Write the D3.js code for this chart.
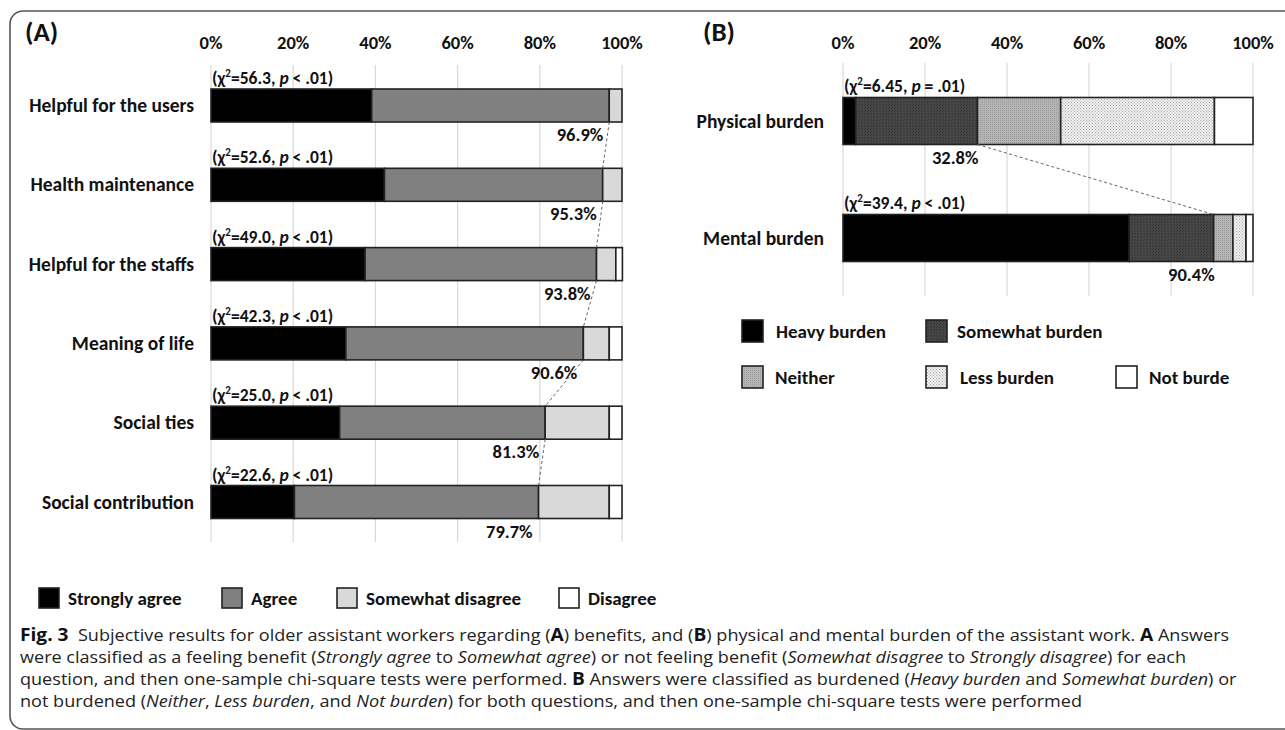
<!DOCTYPE html>
<html><head><meta charset="utf-8">
<script src="https://cdn.jsdelivr.net/npm/d3@7"></script>
<style>body{margin:0;background:#fff} svg{display:block}</style>
</head><body>
<svg id="chart" width="1285" height="730"></svg>
<script>
// ---------- DATA ----------
const tickValues = [0, 20, 40, 60, 80, 100];
const tickLabels = ["0%", "20%", "40%", "60%", "80%", "100%"];

// Panel A
const categoriesA = ["Helpful for the users", "Health maintenance", "Helpful for the staffs", "Meaning of life", "Social ties", "Social contribution"];
const seriesA = ["Strongly agree", "Agree", "Somewhat disagree", "Disagree"];
const stronglyAgree = [39.1, 42.2, 37.5, 32.8, 31.3, 20.3];
const agree = [57.8, 53.1, 56.3, 57.8, 50.0, 59.4];
const somewhatDisagree = [3.1, 4.7, 4.7, 6.3, 15.6, 17.2];
const disagree = [0, 0, 1.6, 3.1, 3.1, 3.1];
const benefitLabels = ["96.9%", "95.3%", "93.8%", "90.6%", "81.3%", "79.7%"];
const chiA = ["56.3", "52.6", "49.0", "42.3", "25.0", "22.6"];
const pOpA = ["<", "<", "<", "<", "<", "<"];

// Panel B
const categoriesB = ["Physical burden", "Mental burden"];
const seriesB = ["Heavy burden", "Somewhat burden", "Neither", "Less burden", "Not burde"];
const heavyBurden = [3.1, 69.8];
const somewhatBurden = [29.7, 20.6];
const neither = [20.3, 4.7];
const lessBurden = [37.5, 3.2];
const notBurden = [9.4, 1.7];
const burdenLabels = ["32.8%", "90.4%"];
const chiB = ["6.45", "39.4"];
const pOpB = ["=", "<"];

// ---------- SETUP ----------
const FONT = "Carlito, Lato, 'Open Sans', sans-serif";
const svg = d3.select("#chart");

const defs = svg.append("defs");
function pattern(id, size, bg, dots, dotColor) {
  const p = defs.append("pattern").attr("id", id).attr("patternUnits", "userSpaceOnUse")
    .attr("width", size).attr("height", size);
  p.append("rect").attr("width", size).attr("height", size).attr("fill", bg);
  dots.forEach(d => p.append("rect").attr("x", d[0]).attr("y", d[1]).attr("width", 1).attr("height", 1).attr("fill", dotColor));
}
pattern("patSomewhat", 3, "#474747", [[0, 0], [1, 2]], "#333");
pattern("patNeither", 2, "#b4b4b4", [[0, 0]], "#9c9c9c");
pattern("patLess", 3, "#f0f0f0", [[0, 0], [1.5, 1.5]], "#a8a8a8");

// frame
svg.append("rect").attr("x", 10).attr("y", 11).attr("width", 1320).attr("height", 718)
  .attr("rx", 13).attr("fill", "none").attr("stroke", "#555").attr("stroke-width", 1.6);

function chiText(sel, x, y, chi, op) {
  const t = sel.append("text").attr("x", x).attr("y", y).attr("font-family", FONT)
    .attr("font-weight", "bold").attr("font-size", 17.5).attr("fill", "#111");
  t.append("tspan").text("(χ");
  t.append("tspan").attr("font-size", 11).attr("dy", -7).text("2");
  t.append("tspan").attr("dy", 7).text("=" + chi + ", ");
  t.append("tspan").attr("font-style", "italic").text("p");
  t.append("tspan").text(" " + op + " .01)");
}

function panel(cfg) {
  const g = svg.append("g");
  const x = d3.scaleLinear().domain([0, 100]).range(cfg.xRange);
  const y = d3.scalePoint().domain(cfg.cats).range(cfg.yRange);
  const h = cfg.barH;

  // panel letter
  g.append("text").attr("x", cfg.letterX).attr("y", 41).attr("font-family", FONT)
    .attr("font-weight", "bold").attr("font-size", 27).attr("fill", "#111").text(cfg.letter);

  // grid + tick labels
  g.selectAll(".grid").data(tickValues).join("line")
    .attr("x1", d => x(d)).attr("x2", d => x(d))
    .attr("y1", cfg.gridY[0]).attr("y2", cfg.gridY[1])
    .attr("stroke", "#d9d9d9").attr("stroke-width", 1.2);
  g.selectAll(".tick").data(tickValues).join("text")
    .attr("x", d => x(d)).attr("y", 49).attr("text-anchor", "middle")
    .attr("font-family", FONT).attr("font-weight", "bold").attr("font-size", 18.5).attr("fill", "#111")
    .text((d, i) => tickLabels[i]);

  // category labels
  g.selectAll(".cat").data(cfg.cats).join("text")
    .attr("x", cfg.catX).attr("y", d => y(d) + 6.5).attr("text-anchor", "end")
    .attr("font-family", FONT).attr("font-weight", "bold").attr("font-size", 19.5).attr("fill", "#111")
    .text(d => d);

  // stacked bars
  const stacked = d3.stack().keys(cfg.keys)(cfg.table);
  stacked.forEach((layer, li) => {
    g.selectAll(null).data(layer.filter(d => d[1] - d[0] > 0)).join("rect")
      .attr("x", d => x(d[0])).attr("width", d => x(d[1]) - x(d[0]))
      .attr("y", d => y(d.data.cat) - h / 2).attr("height", h)
      .attr("fill", cfg.fills[li]).attr("stroke", "#222").attr("stroke-width", 1.6);
  });

  // chi labels
  cfg.cats.forEach((c, i) => chiText(g, cfg.xRange[0] + 1, y(c) - h / 2 - cfg.chiGap, cfg.chi[i], cfg.ops[i]));

  // cumulative boundary: dashed connectors + labels
  const cum = cfg.table.map(d => cfg.splitKeys.reduce((s, k) => s + d[k], 0));
  for (let i = 0; i < cfg.cats.length - 1; i++) {
    g.append("line")
      .attr("x1", x(cum[i])).attr("y1", y(cfg.cats[i]) + h / 2)
      .attr("x2", x(cum[i + 1])).attr("y2", y(cfg.cats[i + 1]) - h / 2)
      .attr("stroke", "#666").attr("stroke-width", 1).attr("stroke-dasharray", "3,2.5");
  }
  cfg.cats.forEach((c, i) => {
    g.append("text").attr("x", x(cum[i]) + cfg.pctOff).attr("y", y(c) + h / 2 + cfg.pctGap)
      .attr("text-anchor", "end").attr("font-family", FONT).attr("font-weight", "bold")
      .attr("font-size", 18.5).attr("fill", "#111").text(cfg.pct[i]);
  });
}

const tableA = categoriesA.map((c, i) => ({ cat: c, sa: stronglyAgree[i], ag: agree[i], sd: somewhatDisagree[i], di: disagree[i] }));
const fillsA = ["#000", "#808080", "#d9d9d9", "#fff"];
panel({
  letter: "(A)", letterX: 25, cats: categoriesA, table: tableA, keys: ["sa", "ag", "sd", "di"],
  splitKeys: ["sa", "ag"], fills: fillsA, xRange: [211, 622], yRange: [105.5, 502], barH: 33,
  gridY: [65, 542], catX: 194, chi: chiA, ops: pOpA, chiGap: 5, pct: benefitLabels, pctOff: -6, pctGap: 19
});

const tableB = categoriesB.map((c, i) => ({ cat: c, hb: heavyBurden[i], sb: somewhatBurden[i], ne: neither[i], lb: lessBurden[i], nb: notBurden[i] }));
const fillsB = ["#000", "url(#patSomewhat)", "url(#patNeither)", "url(#patLess)", "#fff"];
panel({
  letter: "(B)", letterX: 703, cats: categoriesB, table: tableB, keys: ["hb", "sb", "ne", "lb", "nb"],
  splitKeys: ["hb", "sb"], fills: fillsB, xRange: [843, 1253], yRange: [121, 238], barH: 47,
  gridY: [63, 296], catX: 824, chi: chiB, ops: pOpB, chiGap: 6, pct: burdenLabels, pctOff: 1, pctGap: 19
});

// ---------- LEGENDS ----------
function legend(items, fills, pos) {
  items.forEach((name, i) => {
    const p = pos[i];
    svg.append("rect").attr("x", p[0]).attr("y", p[1]).attr("width", p[2]).attr("height", p[3])
      .attr("fill", fills[i]).attr("stroke", "#222").attr("stroke-width", 1.6);
    svg.append("text").attr("x", p[4]).attr("y", p[1] + p[3] / 2 + 6.5)
      .attr("font-family", FONT).attr("font-weight", "bold").attr("font-size", 19).attr("fill", "#111").text(name);
  });
}
legend(seriesA, fillsA, [[39, 588, 20, 20, 68], [222, 588, 20, 20, 251], [337, 588, 20, 20, 366], [559, 588, 20, 20, 588]]);
legend(seriesB, fillsB, [[742, 320, 21, 22, 776], [926, 320, 21, 22, 957], [742, 366, 21, 22, 775], [926, 366, 21, 22, 960], [1116, 366, 21, 22, 1149]]);

// ---------- CAPTION ----------
const captionLines = [
  [["b", "Fig. 3"], ["n", "  Subjective results for older assistant workers regarding ("], ["b", "A"], ["n", ") benefits, and ("], ["b", "B"], ["n", ") physical and mental burden of the assistant work. "], ["b", "A"], ["n", " Answers"]],
  [["n", "were classified as a feeling benefit ("], ["i", "Strongly agree"], ["n", " to "], ["i", "Somewhat agree"], ["n", ") or not feeling benefit ("], ["i", "Somewhat disagree"], ["n", " to "], ["i", "Strongly disagree"], ["n", ") for each"]],
  [["n", "question, and then one-sample chi-square tests were performed. "], ["b", "B"], ["n", " Answers were classified as burdened ("], ["i", "Heavy burden"], ["n", " and "], ["i", "Somewhat burden"], ["n", ") or"]],
  [["n", "not burdened ("], ["i", "Neither"], ["n", ", "], ["i", "Less burden"], ["n", ", and "], ["i", "Not burden"], ["n", ") for both questions, and then one-sample chi-square tests were performed"]]
];
const capBase = [641, 663.5, 685.5, 707.5];
const capNodes = captionLines.map((line, li) => {
  const t = svg.append("text").attr("x", 20).attr("y", capBase[li])
    .attr("font-family", "'Open Sans', sans-serif").attr("font-size", 16.5).attr("fill", "#222")
    .attr("xml:space", "preserve").style("white-space", "pre");
  line.forEach(([st, s]) => {
    const ts = t.append("tspan").text(s);
    if (st === "b") ts.attr("font-weight", "bold").attr("fill", "#111").attr("font-size", 17.5);
    if (st === "i") ts.attr("font-style", "italic");
  });
  return t;
});
const w0 = capNodes[0].node().getComputedTextLength();
const sx = (1230 - 20) / w0;
capNodes.forEach(t => t.attr("transform", `translate(20,0) scale(${sx},1) translate(-20,0)`));
</script>
</body></html>
